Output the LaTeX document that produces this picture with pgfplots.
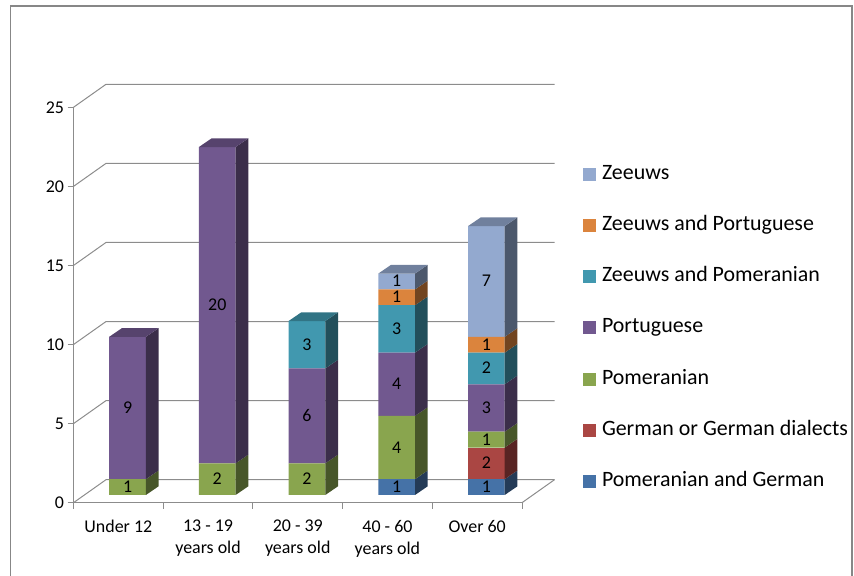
\documentclass[border=0pt]{standalone}
\usepackage{fontspec}
\setmainfont{Carlito}
\usepackage{pgfplots}
\usepackage{pgfplotstable}
\pgfplotsset{compat=1.18}

\definecolor{cPG}{HTML}{4572A7}
\definecolor{cGG}{HTML}{AA4643}
\definecolor{cPom}{HTML}{89A54E}
\definecolor{cPor}{HTML}{71588F}
\definecolor{cZPom}{HTML}{4198AF}
\definecolor{cZPor}{HTML}{DB843D}
\definecolor{cZ}{HTML}{93A9CF}
\definecolor{gridc}{RGB}{140,140,140}
\definecolor{framec}{RGB}{135,135,135}

\newcommand\tickfont{\fontsize{18}{22}\selectfont}
\newcommand\legfont{\fontsize{22}{24}\selectfont}

% stacked values, bottom to top
\pgfplotstableread{
x PG GG Pom Por ZPom ZPor Z
0 0 0 1 9 0 0 0
1 0 0 2 20 0 0 0
2 0 0 2 6 3 0 0
3 1 0 4 4 3 1 1
4 1 2 1 3 2 1 7
}\datatable

% side face and centred label of one segment: bar index, lower and upper edge, colour
\newcommand\seg[4]{%
  \pgfmathsetmacro\xa{#1+0.2046}%
  \pgfmathsetmacro\xb{#1+0.2046+0.1416}%
  \pgfmathsetmacro\ya{#2+0.55}%
  \pgfmathsetmacro\yb{#3+0.55}%
  \pgfmathsetmacro\ym{(#2+#3)/2}%
  \pgfmathtruncatemacro\vv{#3-#2}%
  \edef\tmp{\noexpand\addplot[fill=#4!52!black, draw=none] coordinates {(\xa,#2) (\xb,\ya) (\xb,\yb) (\xa,#3)};
    \noexpand\addplot[draw=none, mark=none, nodes near coords, point meta=explicit symbolic] coordinates {(#1,\ym) [\vv]};}%
  \tmp}
% top face of one bar: bar index, total, colour
\newcommand\topface[3]{%
  \pgfmathsetmacro\xa{#1-0.2046}%
  \pgfmathsetmacro\xb{#1+0.2046}%
  \pgfmathsetmacro\xc{#1+0.2046+0.1416}%
  \pgfmathsetmacro\xd{#1-0.2046+0.1416}%
  \pgfmathsetmacro\yt{#2+0.55}%
  \edef\tmp{\noexpand\addplot[fill=#3!76!black, draw=none] coordinates {(\xa,#2) (\xb,#2) (\xc,\yt) (\xd,\yt)};}%
  \tmp}

\begin{document}
\begin{tikzpicture}
\useasboundingbox (0,0) rectangle (854bp,576bp);
\draw[framec, line width=1.3bp] (10.5bp,-10bp) rectangle (852bp,570bp);

% ---- frame axis: floor, walls, ticks, labels
\begin{axis}[
  at={(73.5bp,73.3bp)}, anchor=south west, scale only axis,
  width=448.5bp, height=395.4bp,
  xmin=-0.5, xmax=4.5, ymin=0, ymax=25,
  clip=false,
  axis x line*=bottom, axis y line*=left,
  axis line style={gridc, line width=1bp, -},
  tick style={gridc, line width=1bp},
  tick align=outside, major tick length=6bp,
  xtick={-0.5,0.5,1.5,2.5,3.5,4.5}, xticklabels={},
  extra x ticks={0,1,2,3,4},
  extra x tick labels={Under 12,{13 - 19\\years old},{20 - 39\\years old},{40 - 60\\years old},Over 60},
  extra x tick style={major tick length=0pt, xticklabel style={align=center, font=\tickfont, text=black, yshift=-14bp}},
  ytick={0,5,10,15,20,25},
  yticklabel style={font=\tickfont, text=black},
  /pgf/number format/assume math mode=true,
]
\addplot[gridc, line width=1bp] coordinates {(-0.5,0) (-0.1377,1.454) (4.8623,1.454)};
\addplot[gridc, line width=1bp] coordinates {(-0.5,5) (-0.1377,6.454) (4.8623,6.454)};
\addplot[gridc, line width=1bp] coordinates {(-0.5,10) (-0.1377,11.454) (4.8623,11.454)};
\addplot[gridc, line width=1bp] coordinates {(-0.5,15) (-0.1377,16.454) (4.8623,16.454)};
\addplot[gridc, line width=1bp] coordinates {(-0.5,20) (-0.1377,21.454) (4.8623,21.454)};
\addplot[gridc, line width=1bp] coordinates {(-0.5,25) (-0.1377,26.454) (4.8623,26.454)};
\addplot[gridc, line width=1bp] coordinates {(4.5,0) (4.8623,1.454)};
\end{axis}

% ---- front faces of the stacked bars, and the legend
\begin{axis}[
  at={(82.7bp,81bp)}, anchor=south west, scale only axis,
  width=448.5bp, height=395.4bp,
  xmin=-0.5, xmax=4.5, ymin=0, ymax=25,
  hide axis, clip=false,
  ybar stacked, bar width=36.7bp,
  reverse legend,
  legend cell align=left,
  legend image code/.code={\fill[#1] (0bp,-6.5bp) rectangle (13bp,6.5bp);},
  legend style={at={(axis description cs:1.1155,0.8345)}, anchor=north west,
    draw=none, fill=none, inner sep=0pt, outer sep=0pt,
    font=\legfont, column sep=6bp, row sep=33.3bp,
    nodes={inner sep=0pt, text height=14bp, text depth=4bp}},
]
\addplot[fill=cPG, draw=none] table[x=x, y=PG]{\datatable};
\addlegendentry{Pomeranian and German}
\addplot[fill=cGG, draw=none] table[x=x, y=GG]{\datatable};
\addlegendentry{German or German dialects}
\addplot[fill=cPom, draw=none] table[x=x, y=Pom]{\datatable};
\addlegendentry{Pomeranian}
\addplot[fill=cPor, draw=none] table[x=x, y=Por]{\datatable};
\addlegendentry{Portuguese}
\addplot[fill=cZPom, draw=none] table[x=x, y=ZPom]{\datatable};
\addlegendentry{Zeeuws and Pomeranian}
\addplot[fill=cZPor, draw=none] table[x=x, y=ZPor]{\datatable};
\addlegendentry{Zeeuws and Portuguese}
\addplot[fill=cZ, draw=none] table[x=x, y=Z]{\datatable};
\addlegendentry{Zeeuws}
\end{axis}

% ---- side and top faces, and the value labels
\begin{axis}[
  at={(82.7bp,81bp)}, anchor=south west, scale only axis,
  width=448.5bp, height=395.4bp,
  xmin=-0.5, xmax=4.5, ymin=0, ymax=25,
  hide axis, clip=false,
  every node near coord/.append style={anchor=center, inner sep=0pt, text height=11bp, text depth=0pt, font=\tickfont, text=black},
]
\seg{0}{0}{1}{cPom}\seg{0}{1}{10}{cPor}\topface{0}{10}{cPor}
\seg{1}{0}{2}{cPom}\seg{1}{2}{22}{cPor}\topface{1}{22}{cPor}
\seg{2}{0}{2}{cPom}\seg{2}{2}{8}{cPor}\seg{2}{8}{11}{cZPom}\topface{2}{11}{cZPom}
\seg{3}{0}{1}{cPG}\seg{3}{1}{5}{cPom}\seg{3}{5}{9}{cPor}\seg{3}{9}{12}{cZPom}\seg{3}{12}{13}{cZPor}\seg{3}{13}{14}{cZ}\topface{3}{14}{cZ}
\seg{4}{0}{1}{cPG}\seg{4}{1}{3}{cGG}\seg{4}{3}{4}{cPom}\seg{4}{4}{7}{cPor}\seg{4}{7}{9}{cZPom}\seg{4}{9}{10}{cZPor}\seg{4}{10}{17}{cZ}\topface{4}{17}{cZ}
\end{axis}
\end{tikzpicture}
\end{document}
